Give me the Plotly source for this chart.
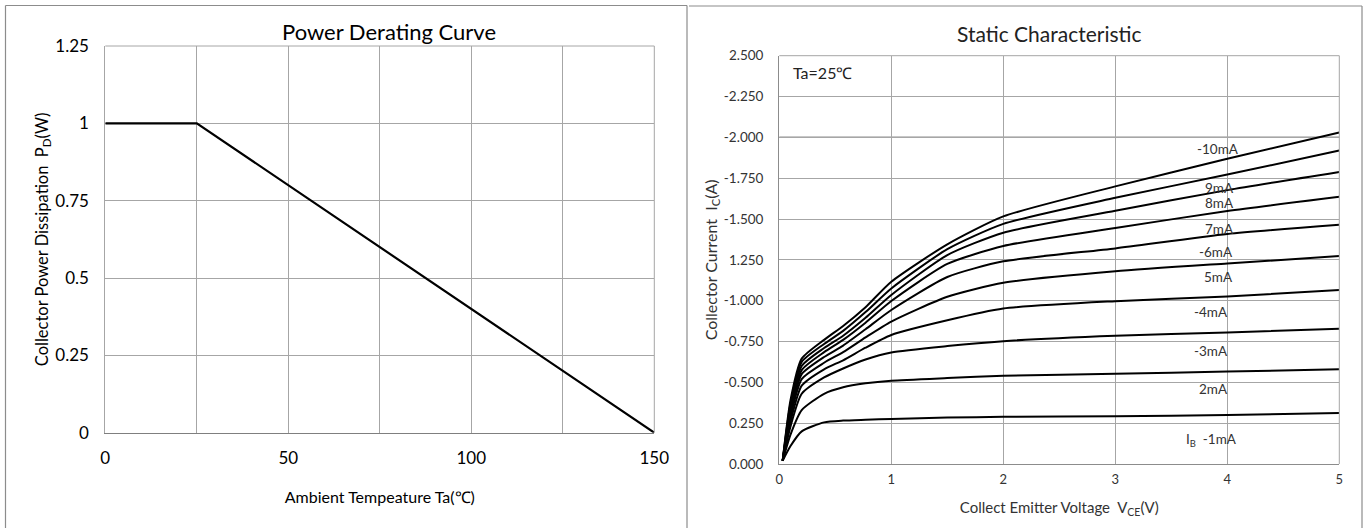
import plotly.graph_objects as go

# ---------------- Left chart data: Power Derating Curve ----------------
ta_temps = [0, 25, 150]
pd_watts = [1.0, 1.0, 0.0]
left_xticks = [0, 50, 100, 150]
left_xtext = ["0", "50", "100", "150"]
left_yticks = [0, 0.25, 0.5, 0.75, 1.0, 1.25]
left_ytext = ["0", "0.25", "0.5", "0.75", "1", "1.25"]

# ---------------- Right chart data: Static Characteristic ----------------
vce = [0.03, 0.1, 0.2, 0.4, 0.57, 0.77, 1.0, 1.5, 2.0, 3.0, 4.0, 5.0]
ic_1mA = [0.02, 0.11, 0.20, 0.255, 0.266, 0.271, 0.276, 0.284, 0.289, 0.293, 0.300, 0.313]
ic_2mA = [0.02, 0.18, 0.33, 0.43, 0.470, 0.494, 0.510, 0.526, 0.540, 0.552, 0.566, 0.580]
ic_3mA = [0.02, 0.23, 0.43, 0.53, 0.585, 0.640, 0.683, 0.722, 0.752, 0.785, 0.805, 0.828]
ic_4mA = [0.02, 0.26, 0.48, 0.58, 0.635, 0.712, 0.790, 0.880, 0.952, 0.997, 1.026, 1.065]
ic_5mA = [0.02, 0.29, 0.52, 0.62, 0.685, 0.775, 0.872, 1.024, 1.110, 1.180, 1.228, 1.273]
ic_6mA = [0.02, 0.31, 0.55, 0.655, 0.725, 0.825, 0.943, 1.145, 1.241, 1.320, 1.408, 1.465]
ic_7mA = [0.02, 0.33, 0.575, 0.685, 0.760, 0.865, 0.998, 1.225, 1.335, 1.445, 1.549, 1.636]
ic_8mA = [0.02, 0.35, 0.60, 0.710, 0.785, 0.895, 1.035, 1.279, 1.416, 1.550, 1.677, 1.788]
ic_9mA = [0.02, 0.37, 0.625, 0.735, 0.815, 0.930, 1.075, 1.315, 1.470, 1.630, 1.772, 1.919]
ic_10mA = [0.02, 0.39, 0.645, 0.760, 0.845, 0.960, 1.116, 1.345, 1.516, 1.700, 1.869, 2.030]
ic_curves = [ic_1mA, ic_2mA, ic_3mA, ic_4mA, ic_5mA, ic_6mA, ic_7mA, ic_8mA, ic_9mA, ic_10mA]

curve_labels = ["I<sub>B</sub>  -1mA", "2mA", "-3mA", "-4mA", "5mA", "-6mA", "7mA", "8mA", "9mA", "-10mA"]
label_x = [3.86, 3.88, 3.85, 3.85, 3.92, 3.90, 3.93, 3.93, 3.93, 3.92]
label_y = [0.147, 0.457, 0.694, 0.933, 1.147, 1.30, 1.44, 1.60, 1.69, 1.93]

right_yticks = [0, 0.25, 0.5, 0.75, 1.0, 1.25, 1.5, 1.75, 2.0, 2.25, 2.5]
right_ytext = ["0.000", "0.250", "-0.500", "-0.750", "-1.000", "1.250",
               "-1.500", "-1.750", "-2.000", "-2.250", "2.500"]
right_xticks = [0, 1, 2, 3, 4, 5]
right_xtext = ["0", "1", "2", "3", "4", "5"]

FONT = "Lato"
GRID = "#a6a6a6"
W, H = 1368, 528


def px_x(p):
    return p / W


def px_y(p):
    return 1 - p / H


fig = go.Figure()

fig.add_trace(go.Scatter(x=ta_temps, y=pd_watts, mode="lines",
                         line=dict(color="black", width=2.2),
                         xaxis="x", yaxis="y", showlegend=False, hoverinfo="skip"))

for ic in ic_curves:
    fig.add_trace(go.Scatter(x=vce, y=ic, mode="lines",
                             line=dict(color="black", width=2, shape="spline", smoothing=0.6),
                             xaxis="x2", yaxis="y2", showlegend=False, hoverinfo="skip"))

fig.update_layout(
    width=W, height=H,
    margin=dict(l=0, r=0, t=0, b=0, autoexpand=False),
    paper_bgcolor="white", plot_bgcolor="white",
    font=dict(family=FONT, color="black"),
    xaxis=dict(domain=[px_x(105.3), px_x(654.3)], range=[0, 150],
               tickvals=left_xticks, ticktext=left_xtext,
               showgrid=True, gridcolor=GRID, gridwidth=1,
               minor=dict(dtick=25, tick0=0, showgrid=True, gridcolor=GRID, gridwidth=1),
               showline=True, linecolor="#7f7f7f", linewidth=1.5,
               ticks="", zeroline=False, ticklabelstandoff=9, automargin=False,
               tickfont=dict(size=17, family=FONT, color="black"),
               title=dict(text="Ambient Tempeature Ta(℃)", standoff=25,
                          font=dict(size=16, family=FONT, color="black")),
               anchor="y", fixedrange=True),
    yaxis=dict(domain=[px_y(432.7), px_y(46)], range=[0, 1.25],
               tickvals=left_yticks, ticktext=left_ytext,
               showgrid=True, gridcolor=GRID, gridwidth=1,
               showline=True, linecolor=GRID, linewidth=1,
               ticks="", zeroline=False, ticklabelstandoff=12, automargin=False,
               tickfont=dict(size=17, family=FONT, color="black"),
               title=dict(text="Collector Power Dissipation  P<sub>D</sub>(W)", standoff=2,
                          font=dict(size=16.5, family=FONT, color="black")),
               anchor="x", fixedrange=True),
    xaxis2=dict(domain=[px_x(779.3), px_x(1339.3)], range=[0, 5],
                tickvals=right_xticks, ticktext=right_xtext,
                showgrid=True, gridcolor=GRID, gridwidth=1,
                showline=True, linecolor="#8c8c8c", linewidth=1.2,
                ticks="", zeroline=False, ticklabelstandoff=3, automargin=False,
                tickfont=dict(size=13, family=FONT, color="#333333"),
                title=dict(text="Collect Emitter Voltage  V<sub>CE</sub>(V)", standoff=16,
                           font=dict(size=15, family=FONT, color="#333333")),
                anchor="y2", fixedrange=True),
    yaxis2=dict(domain=[px_y(464), px_y(55.7)], range=[0, 2.5],
                tickvals=right_yticks, ticktext=right_ytext,
                showgrid=True, gridcolor=GRID, gridwidth=1,
                showline=True, linecolor="#8c8c8c", linewidth=1.2,
                ticks="", zeroline=False, ticklabelstandoff=12, automargin=False,
                tickfont=dict(size=13.5, family=FONT, color="#333333"),
                title=dict(text="Collector Current  I<sub>C</sub>(A)", standoff=2,
                           font=dict(size=16, family=FONT, color="#333333")),
                anchor="x2", fixedrange=True),
)

annotations = [
    dict(text="Power Derating Curve", xref="paper", yref="paper",
         x=px_x(389), y=px_y(31), xanchor="center", yanchor="middle",
         showarrow=False, font=dict(size=22, family=FONT, color="black")),
    dict(text="Static Characteristic", xref="paper", yref="paper",
         x=px_x(1049), y=px_y(33), xanchor="center", yanchor="middle",
         showarrow=False, font=dict(size=21, family=FONT, color="#222222")),
    dict(text="Ta=25℃", xref="x2", yref="y2", x=0.1, y=2.4,
         xanchor="left", yanchor="middle", showarrow=False,
         font=dict(size=16, family=FONT, color="#222222")),
]
for t, lx, ly in zip(curve_labels, label_x, label_y):
    annotations.append(dict(text=t, xref="x2", yref="y2", x=lx, y=ly,
                            xanchor="center", yanchor="middle", showarrow=False,
                            font=dict(size=13.5, family=FONT, color="#333333")))
fig.update_layout(annotations=annotations)

BORDER = "#8c8c8c"
shapes = [
    # boundary gridlines of the plotting areas (top and right edges)
    dict(type="line", xref="x domain", yref="y domain", x0=0, x1=1, y0=1, y1=1,
         line=dict(color=GRID, width=1)),
    dict(type="line", xref="x domain", yref="y domain", x0=1, x1=1, y0=0, y1=1,
         line=dict(color=GRID, width=1)),
    dict(type="line", xref="x2 domain", yref="y2 domain", x0=0, x1=1, y0=1, y1=1,
         line=dict(color=GRID, width=1)),
    dict(type="line", xref="x2 domain", yref="y2 domain", x0=1, x1=1, y0=0, y1=1,
         line=dict(color=GRID, width=1)),
    # slightly darker -2.000 gridline seen in the reference
    dict(type="line", xref="x2 domain", yref="y2", x0=0, x1=1, y0=2.0, y1=2.0,
         line=dict(color="#909090", width=1.5), layer="below"),
    # panel frames
    dict(type="line", xref="paper", yref="paper", x0=px_x(5.5), x1=px_x(687), y0=px_y(5.5), y1=px_y(5.5),
         line=dict(color=BORDER, width=1.2)),
    dict(type="line", xref="paper", yref="paper", x0=px_x(5.5), x1=px_x(5.5), y0=px_y(5.5), y1=0,
         line=dict(color=BORDER, width=1.2)),
    dict(type="line", xref="paper", yref="paper", x0=px_x(687), x1=px_x(687), y0=px_y(5.5), y1=0,
         line=dict(color=BORDER, width=1.2)),
    dict(type="line", xref="paper", yref="paper", x0=px_x(689), x1=px_x(1362), y0=px_y(6), y1=px_y(6),
         line=dict(color=BORDER, width=1.2)),
    dict(type="line", xref="paper", yref="paper", x0=px_x(1362), x1=px_x(1362), y0=px_y(6), y1=0,
         line=dict(color=BORDER, width=1.2)),
]
fig.update_layout(shapes=shapes)

fig.write_html("out.html",
               config={"displayModeBar": False, "staticPlot": True},
               post_script="document.body.style.margin='0';document.body.style.overflow='hidden';")
